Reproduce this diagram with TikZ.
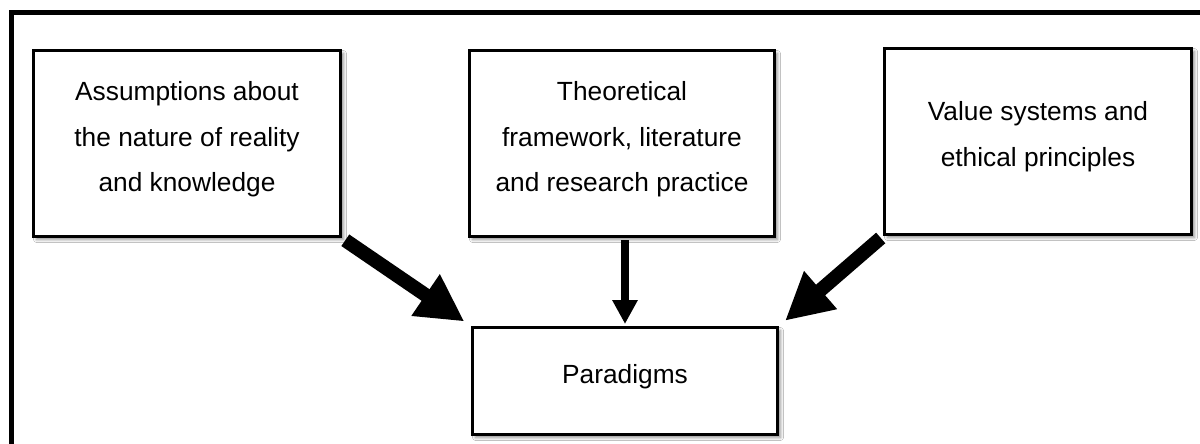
\documentclass[tikz,border=0pt]{standalone}
\usepackage{fontspec}
\setmainfont{Liberation Sans}
\usetikzlibrary{arrows.meta,shadows.blur}
\begin{document}
\begin{tikzpicture}[x=1pt,y=-1pt,
  box/.style={draw,line width=3pt,fill=white,minimum width=#1,minimum height=186pt,inner sep=0pt,
    blur shadow={shadow xshift=3pt,shadow yshift=-3pt,shadow blur radius=3pt,shadow opacity=45}},
  txt/.style={anchor=base,inner sep=0pt,font=\fontsize{26.3}{46}\selectfont},
  big/.style={line width=14pt,-{Triangle[length=47pt,width=47pt]}},
  thin/.style={line width=8pt,-{Triangle[length=24pt,width=24pt]}},
]
\useasboundingbox (0,0) rectangle (1200,444);
\clip (0,0) rectangle (1200,444);
\fill[white] (0,0) rectangle (1200,444);
\draw[line width=5pt] (11,13) rectangle (1230,480);

\node[box=307pt] (A) at (187,143.5) {};
\node[box=305pt] (B) at (622,143.5) {};
\node[box=307pt] (C) at (1038,141.5) {};
\node[box=305pt,minimum height=107pt] (P) at (625,381) {};

\draw[big, shorten <=4pt, shorten >=8pt] (A.south east) -- (P.north west);
\draw[big, shorten <=3pt, shorten >=8pt] (C.south west) -- (P.north east);
\draw[thin, shorten <=2pt, shorten >=2pt] (P.north |- B.south) -- (P.north);

\node[txt] (tA) at (187,100) {\begin{tabular}[t]{@{}c@{}}Assumptions about\\the nature of reality\\and knowledge\end{tabular}};
\node[txt] (tB) at (622,100) {\begin{tabular}[t]{@{}c@{}}Theoretical\\framework, literature\\and research practice\end{tabular}};
\node[txt] (tC) at (1038,121) {\begin{tabular}[t]{@{}c@{}}Value systems and\\ethical principles\end{tabular}};
\node[txt] (tP) at (625,383) {Paradigms};
\end{tikzpicture}
\end{document}
